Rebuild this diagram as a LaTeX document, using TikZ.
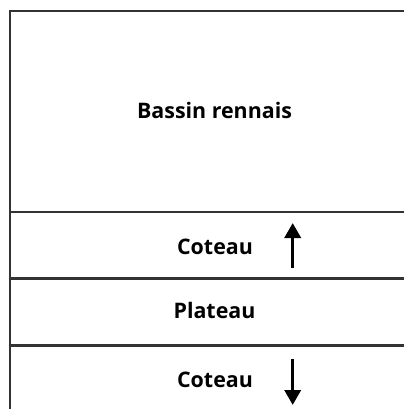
\documentclass[tikz,border=0pt]{standalone}
\usepackage{fontspec}
\setmainfont{Open Sans}
\usetikzlibrary{arrows.meta}
\tikzset{
  rule/.style={line width=2.2pt, draw=black!80},
  lbl/.style={font=\bfseries\fontsize{21.4}{25}\selectfont, inner sep=0pt, anchor=center},
  flow/.style={line width=3.5pt, -{Triangle[width=16pt,length=15pt]}}
}
\begin{document}
\begin{tikzpicture}[x=1pt,y=-1pt]
\useasboundingbox (0,0) rectangle (404,409);
% frame and layer lines
\draw[rule] (10,409) -- (10,11) -- (404,11);
\draw[rule] (10,212) -- (404,212);
\draw[rule] (10,278.5) -- (404,278.5);
\draw[rule] (10,345.5) -- (404,345.5);
% labels
\node[lbl] (bassin) at (214.5,110) {Bassin rennais};
\node[lbl] (coteau1) at (215,247) {Coteau};
\node[lbl] (plateau) at (214.5,310) {Plateau};
\node[lbl] (coteau2) at (215,380) {Coteau};
% arrows
\coordinate (u1) at (292.7,268);
\coordinate (u2) at (292.7,223);
\coordinate (d1) at (292.7,359);
\coordinate (d2) at (292.7,405);
\draw[flow] (u1) -- (u2);
\draw[flow] (d1) -- (d2);
\end{tikzpicture}
\end{document}
